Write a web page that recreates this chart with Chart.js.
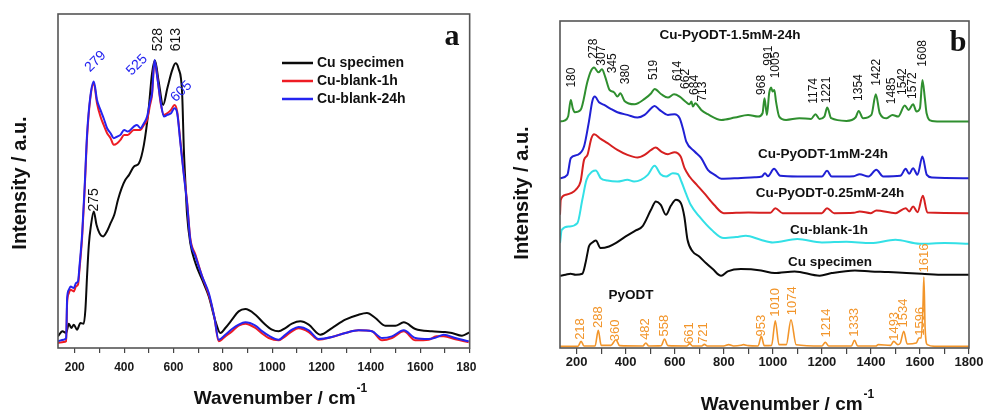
<!DOCTYPE html>
<html>
<head>
<meta charset="utf-8">
<script src="https://cdn.jsdelivr.net/npm/chart.js@4.4.1/dist/chart.umd.min.js"></script>
<style>
  body { margin: 0; background: #fff; width: 986px; height: 411px; overflow: hidden; position: relative; }
  #wrapA { position: absolute; left: 0; top: 0; width: 476px; height: 411px; overflow: hidden; }
  #wrapB { position: absolute; left: 500px; top: 0; width: 486px; height: 411px; overflow: hidden; }
</style>
</head>
<body>
<div id="wrapA"><canvas id="chartA" width="490" height="411"></canvas></div>
<div id="wrapB"><canvas id="chartB" width="486" height="411"></canvas></div>
<script>
// ---------- panel a : data ----------
var wnSpecA = [132,150,165,176,186,196,209,223,236,243,250,257,265,277,288,300,315,330,345,360,
  375,390,405,420,440,460,480,499,513,525,540,558,575,595,608,620,635,642,648,655,
  668,689,716,743,770,790,810,837,864,891,932,965,999,1026,1053,1080,1114,1148,1195,1242,
  1296,1350,1384,1418,1458,1499,1533,1580,1647,1700,1728,1769,1800];
var cuSpecimenA = [3.5,5,4.5,7.3,6,7,5.5,7.5,7.3,11.5,22,31,36.5,41,37,34.5,33.5,35,37.5,40,
  44.5,48,50.5,52,54.5,55.5,61,71.5,82.5,86.3,80,73,78,83.5,85.5,84,76.5,59.5,50,40,
  31.5,25.5,20.5,15.5,8,4.5,6,8.5,11,11.7,10,7.5,5.5,5,6,7.3,8,7,4,6,
  8.5,10,10.5,9,6.7,6.7,7.7,5.7,5,4.8,4.5,3.7,4.7];

var wnBlankA = [132,155,165,169,176,183,196,205,213,219,230,240,250,263,277,290,304,317,331,345,
  358,372,385,400,415,439,452,466,480,493,505,513,523,535,548,561,575,590,604,615,
  628,641,655,668,689,716,743,765,783,810,837,864,891,932,960,986,1026,1053,1080,1107,
  1148,1188,1242,1296,1350,1404,1445,1485,1533,1580,1634,1665,1695,1742,1796];
var blank24hA = [2,2.5,3,15,17.5,18.5,18,19.5,20,24.5,34.5,48.5,64.5,75.5,80,74.5,71.5,69,66,64.5,
  63,63.5,64,65.5,65,66.5,67,66,67.5,69.5,74,76.5,86.5,81,74,69.5,70,70.5,72,70.5,
  61.5,52.5,43.5,32.5,27.5,21.5,16.5,9.5,2.5,4,5.7,7,7.7,6.7,5,3.7,2.5,4,5.5,6.3,
  5.3,2.7,3.3,4.5,5.3,5,3,3.5,5.3,3,2.7,3.2,4,3,2];
var blank1hA = [1.5,1.8,2,13.5,16.5,17.5,17,18.5,19,23.5,33.5,47.5,63.5,75,79.5,73.5,69.5,67,64.5,63,
  61,61.5,62.5,64,64,65.5,65.5,65.5,67,68.5,73,76,86,81,73.5,70,70.5,71.5,73,71,
  62,53,44,33,28,21.5,16,9.5,2,3.5,5,6.7,7.3,6,4.3,3,2.3,3.5,5,5.9,
  4.8,2.5,3.3,4.5,5.3,5,2.3,3,5,2.3,2.5,3.5,3.5,2.6,1.7];

// ---------- panel b : data ----------
var wnG = [132,150,165,176,184,192,216,244,257,271,289,303,316,334,352,366,378,395,436,477,
  504,518,545,572,597,620,647,660,668,674,684,695,708,735,790,845,899,940,958,966,
  976,985,993,999,1006,1013,1026,1054,1108,1156,1174,1190,1210,1222,1238,1300,1338,1350,1368,1402,
  1420,1436,1464,1488,1511,1538,1554,1572,1586,1600,1610,1620,1627,1648,1700,1800];
var pyodt15 = [68,68.3,69.5,74.5,72,70.8,71.5,80,83,84.2,82.8,83.7,81.5,77.5,76.8,75.5,76.5,74.2,73.2,74.8,
  76.5,77.8,76.2,75.2,76.2,75.5,73.8,73.2,74,72.5,73.5,72.7,71.5,70.2,68.5,69.2,70,69.5,70.5,75,
  70,76.5,78.2,77,77.5,74,69.5,68.5,69,68.8,70.2,68.8,69.5,72.2,69,68.2,69.3,71.2,69,70,
  76.2,70.5,69,70,69.5,72.8,71.5,73.2,71,72,80.5,75,70.5,68.2,68,68];

var wnB = [132,162,176,203,230,250,264,274,291,312,339,366,407,448,477,504,518,538,572,599,
  620,633,647,681,708,735,763,790,858,926,955,968,980,1005,1030,1100,1200,1221,1240,1330,
  1354,1390,1422,1450,1520,1542,1556,1572,1590,1610,1628,1650,1800];
var pyodt1 = [51,52,57,58,60.5,68,74.2,75.5,73.8,73,71.8,70.8,70,69.2,70,72,72.7,71.5,70,70.2,
  69,66,62,59,57,53.5,52,50.8,51,51.3,51.5,52.5,51.6,53.8,51.7,51.5,51.5,53.2,51.5,51.6,
  52.2,51.5,53.5,51.5,51.7,53.8,52.3,54,52,57.5,52,51.2,51];

var wnR = [132,135,155,196,216,230,244,260,271,298,326,366,407,448,477,504,522,545,572,599,
  624,640,660,690,720,760,800,900,990,1010,1040,1200,1221,1250,1330,1354,1400,1422,1500,1542,
  1556,1572,1590,1612,1630,1800];
var pyodt025 = [40,44.5,46,47.5,50,56.5,58,63,64.2,62.8,61.5,59.5,58,57.2,58,59.5,60.2,59,58.2,58.8,
  57.5,54,51.5,49,46.5,43,40.5,40.7,40.6,42,40.5,40.5,42,40.5,40.6,41,40.5,41.3,40.5,42,
  41,42.5,40.8,45.7,40.7,40.5];

var wnC = [132,139,169,203,223,240,264,278,298,326,366,407,434,462,490,518,542,565,592,613,
  627,645,665,700,750,800,850,890,950,1000,1100,1200,1300,1400,1500,1600,1700,1800];
var blank1hB = [31.5,35.5,36.5,37.5,44.5,50.5,53,53.3,51,50.3,50,50.5,50,50.5,52,54.7,52.2,51.5,52.5,52.2,
  50,46.5,43,39.5,35.5,33,33.3,33.7,32.5,31.7,32.7,31.7,31.9,31.5,32.5,31.3,31.5,31.3];

var wnK = [132,155,175,196,223,236,244,250,264,278,298,332,359,400,441,468,503,523,543,564,
  584,605,625,639,652,673,700,727,755,789,816,870,952,1007,1089,1191,1240,1335,1400,1471,
  1545,1607,1700,1800];
var specimenB = [21.7,22,22.3,22,22.3,25.5,28.5,30.5,31.7,32.3,30,30.5,31.5,33.5,35.3,36.5,41.5,44,43,40,
  42.7,44.5,43.5,39.5,32.5,29,27.5,25.5,23.7,21.7,23,23.7,23.3,22.5,23,21.7,22.5,23.3,23,22.8,
  22.5,22.3,22,22];

var wnP = [132,205,218,230,275,288,300,340,360,375,470,482,494,545,558,572,650,661,672,710,
  721,732,800,820,840,870,880,900,940,953,965,995,1010,1025,1055,1074,1095,1200,1214,1228,
  1320,1333,1346,1420,1430,1480,1493,1510,1520,1534,1548,1585,1596,1605,1612,1616,1621,1630,1660,1800];
var pyodtB = [0.5,0.5,2,0.6,0.6,5.3,0.8,0.8,2.5,0.7,0.6,1.5,0.6,0.7,2.7,0.7,0.6,1.3,0.6,0.6,
  1.1,0.6,0.6,1,0.6,0.8,1,0.7,0.6,3.5,0.7,0.8,8.2,1,1,8.5,1,0.6,1.7,0.6,
  0.6,2.3,0.6,0.6,1,0.8,2,1,1.5,5,1.2,1.5,3,3,12,21.3,6,1,0.5,0.5];

// peak labels (wavenumbers as printed)
var peaksA = ['279','525','605','528','613','275'];
var peaksGreen = ['180','278','307','345','380','519','614','662','684','713','968','991','1005',
  '1174','1221','1354','1422','1485','1542','1572','1608'];
var peaksPy = ['218','288','360','482','558','661','721','953','1010','1074','1214','1333','1493','1534','1596','1616'];

var xTickStep = 100;

// ---------- helpers ----------
var FONT = "'Liberation Sans', Arial, sans-serif";
Chart.defaults.font.family = FONT;

function pts(xs, ys) {
  return xs.map(function (x, i) { return { x: x, y: ys[i] }; });
}

// frame round the plot area
var framePlugin = {
  id: 'frame',
  afterDraw: function (chart) {
    var a = chart.chartArea, ctx = chart.ctx;
    ctx.save();
    ctx.strokeStyle = '#555';
    ctx.lineWidth = 1.6;
    ctx.strokeRect(a.left, a.top, a.right - a.left, a.bottom - a.top);
    ctx.restore();
  }
};

// axis titles + panel letter
function titlesPlugin(xc, xcy, yc, ycy, letter, lx, ly) {
  return {
    id: 'titles',
    afterDraw: function (chart) {
      var ctx = chart.ctx;
      ctx.save();
      ctx.fillStyle = '#111';
      // x title with superscript
      var main = 'Wavenumber / cm', sup = '-1';
      ctx.font = 'bold 19px ' + FONT;
      var w1 = ctx.measureText(main).width;
      ctx.font = 'bold 12px ' + FONT;
      var w2 = ctx.measureText(sup).width;
      var x0 = xc - (w1 + w2) / 2;
      ctx.textAlign = 'left';
      ctx.textBaseline = 'alphabetic';
      ctx.font = 'bold 19px ' + FONT;
      ctx.fillText(main, x0, xcy + 7);
      ctx.font = 'bold 12px ' + FONT;
      ctx.fillText(sup, x0 + w1 + 1, xcy - 5);
      // y title
      ctx.translate(yc, ycy);
      ctx.rotate(-Math.PI / 2);
      ctx.textAlign = 'center';
      ctx.textBaseline = 'middle';
      ctx.font = 'bold 20px ' + FONT;
      ctx.fillText('Intensity / a.u.', 0, 0);
      ctx.restore();
      // panel letter
      ctx.save();
      ctx.fillStyle = '#111';
      ctx.font = "bold 30px 'Liberation Serif', 'Times New Roman', serif";
      ctx.textAlign = 'center';
      ctx.textBaseline = 'middle';
      ctx.fillText(letter, lx, ly);
      ctx.restore();
    }
  };
}

// rotated peak labels placed in data units
function notesPlugin(items) {
  return {
    id: 'notes',
    afterDatasetsDraw: function (chart) {
      var ctx = chart.ctx, sx = chart.scales.x, sy = chart.scales.y;
      items.forEach(function (n) {
        ctx.save();
        ctx.translate(sx.getPixelForValue(n.x), sy.getPixelForValue(n.y));
        ctx.rotate(n.rot * Math.PI / 180);
        ctx.font = n.font;
        ctx.fillStyle = n.color;
        ctx.textAlign = 'center';
        ctx.textBaseline = 'middle';
        ctx.fillText(n.t, 0, 0);
        ctx.restore();
      });
    }
  };
}

// text labels drawn in canvas pixels (legend / curve names)
function textPlugin(items) {
  return {
    id: 'texts',
    afterDraw: function (chart) {
      var ctx = chart.ctx;
      items.forEach(function (n) {
        ctx.save();
        if (n.line) {
          ctx.strokeStyle = n.line;
          ctx.lineWidth = 2.5;
          ctx.beginPath();
          ctx.moveTo(n.x - 35, n.y);
          ctx.lineTo(n.x - 4, n.y);
          ctx.stroke();
        }
        ctx.font = n.font;
        ctx.fillStyle = n.color || '#111';
        ctx.textAlign = n.align || 'center';
        ctx.textBaseline = 'middle';
        ctx.fillText(n.t, n.x, n.y);
        ctx.restore();
      });
    }
  };
}

function xAxis(fontSize, tickLen, pad) {
  return {
    type: 'linear', min: 132, max: 1800,
    afterFit: function (s) { s.height = 63; },
    ticks: {
      stepSize: xTickStep, includeBounds: false, autoSkip: false, maxRotation: 0,
      color: '#1a1a1a', padding: pad,
      font: { size: fontSize, weight: 'bold' },
      callback: function (v) { return v % 200 === 0 ? String(v) : ''; }
    },
    grid: { drawOnChartArea: false, drawTicks: true, tickLength: tickLen, color: '#444', lineWidth: 1.2 },
    border: { display: false }
  };
}

// ---------- chart a ----------
var BLUE_A = '#2424f0', RED_A = '#ee1c24';
var lblBlue = 'normal 14px ' + FONT, lblBlack = 'normal 14px ' + FONT;

new Chart(document.getElementById('chartA'), {
  type: 'line',
  data: {
    datasets: [
      { label: 'Cu-blank-24h', data: pts(wnBlankA, blank24hA), borderColor: BLUE_A, order: 0 },
      { label: 'Cu-blank-1h', data: pts(wnBlankA, blank1hA), borderColor: RED_A, order: 1 },
      { label: 'Cu specimen', data: pts(wnSpecA, cuSpecimenA), borderColor: '#0a0a0a', order: 2 }
    ]
  },
  options: {
    responsive: false, animation: false,
    layout: { padding: { top: 14, right: 19, left: 58, bottom: 0 } },
    elements: { point: { radius: 0 }, line: { borderWidth: 2, cubicInterpolationMode: 'monotone', fill: false } },
    plugins: { legend: { display: false }, tooltip: { enabled: false } },
    scales: {
      x: xAxis(12, 5, 7),
      y: { display: false, min: 0, max: 100.3 }
    }
  },
  plugins: [
    framePlugin,
    notesPlugin([
      { t: peaksA[0], x: 284, y: 86, rot: -45, font: lblBlue, color: BLUE_A },
      { t: peaksA[1], x: 452, y: 85, rot: -45, font: lblBlue, color: BLUE_A },
      { t: peaksA[2], x: 632, y: 77, rot: -45, font: lblBlue, color: BLUE_A },
      { t: peaksA[3], x: 537, y: 92.6, rot: -90, font: lblBlack, color: '#111' },
      { t: peaksA[4], x: 610, y: 92.6, rot: -90, font: lblBlack, color: '#111' },
      { t: peaksA[5], x: 277, y: 44.5, rot: -90, font: lblBlack, color: '#111' }
    ]),
    textPlugin([
      { t: 'Cu specimen', x: 317, y: 63, align: 'left', font: 'bold 14px ' + FONT, line: '#0a0a0a' },
      { t: 'Cu-blank-1h', x: 317, y: 81, align: 'left', font: 'bold 14px ' + FONT, line: RED_A },
      { t: 'Cu-blank-24h', x: 317, y: 99, align: 'left', font: 'bold 14px ' + FONT, line: BLUE_A }
    ]),
    titlesPlugin(280, 397, 20, 183, 'a', 452, 37)
  ]
});

// ---------- chart b ----------
var GREEN = '#2f8f2f', BLUE_B = '#2020d4', RED_B = '#d62020', CYAN = '#33e0e6', ORANGE = '#f2952a';
var gFont = 'normal 12px ' + FONT, pFont = 'normal 13px ' + FONT, nameFont = 'bold 13.5px ' + FONT;
var gPos = [[178,81.2],[268,89.9],[302,87.8],[346,85.5],[398,82.2],[516,83.5],[612,83.2],[643,80.8],[680,79],[714,77],
  [956,79],[984,87.8],[1011,85],[1168,77.2],[1218,77.5],[1350,78.2],[1422,82.8],[1484,77.2],[1531,80],[1570,78.8],[1613,88.5]];
var pPos = [[216,5.7],[289,9.3],[359,5.3],[482,5.7],[557,6.7],[659,4.5],[716,4.5],[955,6.7],[1009,13.7],[1078,14.2],
  [1218,7.5],[1334,7.7],[1495,6.5],[1531,10.5],[1600,8],[1620,27]];
var notesB = [];
peaksGreen.forEach(function (t, i) {
  notesB.push({ t: t, x: gPos[i][0], y: gPos[i][1], rot: -90, font: gFont, color: '#111' });
});
peaksPy.forEach(function (t, i) {
  notesB.push({ t: t, x: pPos[i][0], y: pPos[i][1], rot: -90, font: pFont, color: ORANGE });
});

new Chart(document.getElementById('chartB'), {
  type: 'line',
  data: {
    datasets: [
      { label: 'Cu-PyODT-1.5mM-24h', data: pts(wnG, pyodt15), borderColor: GREEN },
      { label: 'Cu-PyODT-1mM-24h', data: pts(wnB, pyodt1), borderColor: BLUE_B },
      { label: 'Cu-PyODT-0.25mM-24h', data: pts(wnR, pyodt025), borderColor: RED_B },
      { label: 'Cu-blank-1h', data: pts(wnC, blank1hB), borderColor: CYAN },
      { label: 'Cu specimen', data: pts(wnK, specimenB), borderColor: '#0a0a0a' },
      { label: 'PyODT', data: pts(wnP, pyodtB), borderColor: ORANGE, borderWidth: 1.6 }
    ]
  },
  options: {
    responsive: false, animation: false,
    layout: { padding: { top: 21, right: 17, left: 60, bottom: 0 } },
    elements: { point: { radius: 0 }, line: { borderWidth: 2, cubicInterpolationMode: 'monotone', fill: false } },
    plugins: { legend: { display: false }, tooltip: { enabled: false } },
    scales: {
      x: xAxis(13, 6, 1),
      y: { display: false, min: 0, max: 98.2 }
    }
  },
  plugins: [
    framePlugin,
    notesPlugin(notesB),
    textPlugin([
      { t: 'Cu-PyODT-1.5mM-24h', x: 230, y: 35, font: nameFont },
      { t: 'Cu-PyODT-1mM-24h', x: 323, y: 154, font: nameFont },
      { t: 'Cu-PyODT-0.25mM-24h', x: 330, y: 193, font: nameFont },
      { t: 'Cu-blank-1h', x: 329, y: 230, font: nameFont },
      { t: 'Cu specimen', x: 330, y: 262, font: nameFont },
      { t: 'PyODT', x: 131, y: 295, font: nameFont }
    ]),
    titlesPlugin(287, 403, 22, 193, 'b', 458, 43)
  ]
});
</script>
</body>
</html>
